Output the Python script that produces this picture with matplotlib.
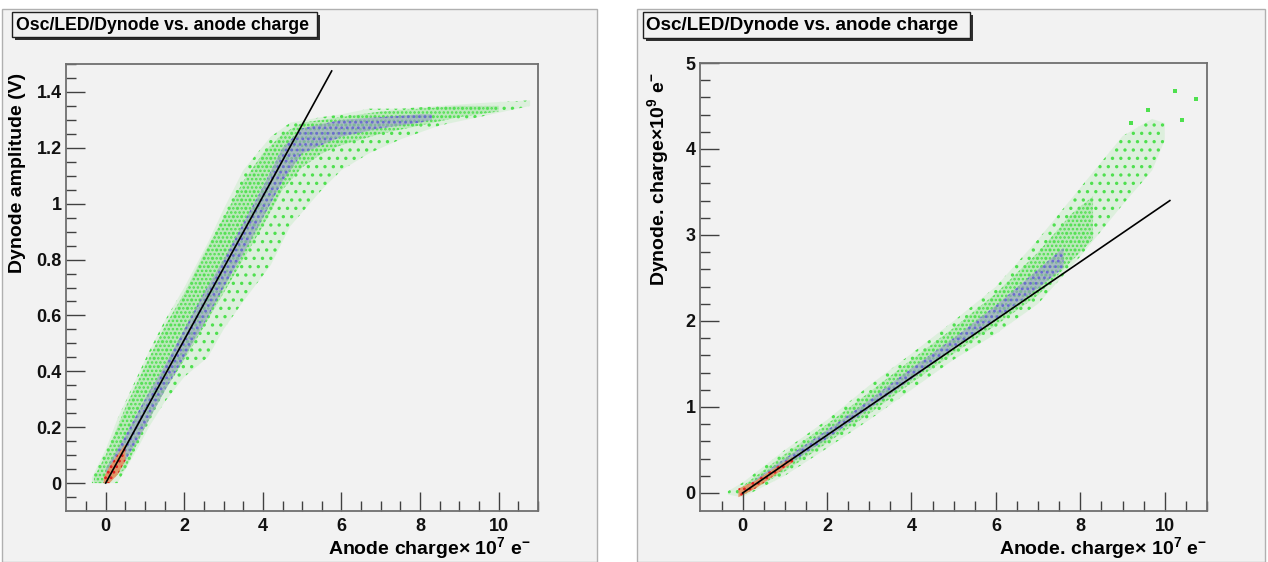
import matplotlib
matplotlib.use("Agg")
import matplotlib.pyplot as plt
from matplotlib.patches import Rectangle

plt.rcParams["font.family"] = ["Liberation Sans", "DejaVu Sans"]
plt.rcParams["font.weight"] = "bold"
plt.rcParams["mathtext.fontset"] = "custom"
plt.rcParams["mathtext.rm"] = "Liberation Sans:bold"
plt.rcParams["mathtext.it"] = "Liberation Sans:bold"
plt.rcParams["hatch.linewidth"] = 1.2

# ---- left panel: dynode amplitude (V) vs anode charge (x 1e7 e-) ----
amp_outer_x = [-0.35, 0.0, 0.3, 0.8, 1.1, 1.5, 2.0, 2.6, 3.0, 3.5, 4.2, 4.7, 5.5, 6.0, 6.7, 7.5, 8.5, 9.5, 10.8]
amp_outer_lo = [0.0, 0.0, 0.0, 0.12, 0.2, 0.29, 0.38, 0.45, 0.55, 0.65, 0.78, 0.92, 1.05, 1.12, 1.18, 1.23, 1.28, 1.31, 1.35]
amp_outer_hi = [0.02, 0.12, 0.23, 0.38, 0.47, 0.58, 0.70, 0.86, 0.98, 1.12, 1.24, 1.29, 1.31, 1.32, 1.34, 1.34, 1.35, 1.36, 1.37]

amp_body_x = [-0.3, 0.0, 0.5, 1.0, 1.5, 2.0, 2.5, 3.0, 3.5, 4.0, 4.5, 5.0, 5.5, 6.0, 7.0, 8.0, 9.0, 10.0]
amp_body_lo = [0.0, 0.0, 0.05, 0.2, 0.33, 0.44, 0.56, 0.68, 0.8, 0.92, 1.05, 1.13, 1.18, 1.21, 1.25, 1.28, 1.31, 1.33]
amp_body_hi = [0.02, 0.1, 0.27, 0.42, 0.56, 0.68, 0.82, 0.95, 1.08, 1.18, 1.25, 1.29, 1.30, 1.31, 1.33, 1.34, 1.35, 1.35]

amp_core_x = [0.0, 0.5, 1.0, 1.5, 2.0, 2.5, 3.0, 3.5, 4.0, 4.5, 5.0, 6.0, 7.0, 8.0, 8.3]
amp_core_lo = [0.0, 0.08, 0.2, 0.33, 0.45, 0.57, 0.7, 0.82, 0.95, 1.08, 1.18, 1.24, 1.27, 1.29, 1.3]
amp_core_hi = [0.05, 0.17, 0.3, 0.42, 0.55, 0.68, 0.8, 0.93, 1.06, 1.2, 1.27, 1.3, 1.31, 1.32, 1.32]

amp_hot_x = [-0.05, 0.1, 0.3, 0.5]
amp_hot_lo = [0.0, 0.0, 0.03, 0.08]
amp_hot_hi = [0.02, 0.06, 0.1, 0.14]

amp_fit_x = [0.0, 5.75]
amp_fit_y = [0.0, 1.475]

# ---- right panel: dynode charge (x 1e9 e-) vs anode charge (x 1e7 e-) ----
chg_outer_x = [-0.35, 0.0, 1.0, 2.0, 3.0, 4.0, 5.0, 6.0, 7.0, 8.0, 9.0, 9.7, 10.0]
chg_outer_lo = [-0.02, -0.05, 0.2, 0.52, 0.85, 1.2, 1.55, 1.85, 2.2, 2.75, 3.35, 3.75, 4.1]
chg_outer_hi = [0.02, 0.12, 0.5, 0.85, 1.25, 1.62, 2.0, 2.4, 2.95, 3.55, 4.15, 4.35, 4.3]

chg_body_x = [0.0, 1.0, 2.0, 3.0, 4.0, 5.0, 6.0, 7.0, 7.8, 8.3]
chg_body_lo = [-0.03, 0.25, 0.58, 0.92, 1.28, 1.62, 1.95, 2.3, 2.7, 2.95]
chg_body_hi = [0.08, 0.45, 0.80, 1.17, 1.55, 1.92, 2.32, 2.8, 3.25, 3.45]

chg_core_x = [0.0, 1.0, 2.0, 3.0, 4.0, 5.0, 6.0, 7.0, 7.6]
chg_core_lo = [-0.02, 0.3, 0.63, 0.98, 1.32, 1.68, 2.02, 2.38, 2.62]
chg_core_hi = [0.05, 0.4, 0.73, 1.08, 1.45, 1.8, 2.18, 2.6, 2.85]

chg_hot_x = [-0.1, 0.3, 0.8, 1.2]
chg_hot_lo = [-0.05, 0.05, 0.22, 0.36]
chg_hot_hi = [0.05, 0.14, 0.3, 0.42]

chg_stray_x = [10.24, 10.4, 10.73, 9.6, 9.2]
chg_stray_y = [4.68, 4.34, 4.58, 4.45, 4.3]

chg_fit_x = [0.0, 10.12]
chg_fit_y = [0.0, 3.40]

W, H = 1268, 562
fig = plt.figure(figsize=(W / 100, H / 100), dpi=100)
fig.patch.set_facecolor("white")

BG = "#f2f2f2"
GREEN = "#4ee04e"


def box(x0, y0, x1, y1):
    # pixel box (top-left origin) -> figure fraction rect
    return [x0 / W, 1 - y1 / H, (x1 - x0) / W, (y1 - y0) / H]


# canvas pads (behind the axes)
for x0, x1 in [(2, 597), (637, 1265)]:
    r = box(x0, 9, x1, 562)
    fig.patches.append(Rectangle(r[:2], r[2], r[3], transform=fig.transFigure,
                                 facecolor=BG, edgecolor="#b0b0b0", lw=1, zorder=-5))


def cloud(ax, x, lo, hi, face, hatch_col, hatch, alpha):
    ax.fill_between(x, lo, hi, facecolor=face, alpha=alpha, lw=0)
    ax.fill_between(x, lo, hi, facecolor="none", edgecolor=hatch_col, hatch=hatch, lw=0)


def style(ax, xlim, ylim):
    ax.set_facecolor(BG)
    ax.set_xlim(*xlim)
    ax.set_ylim(*ylim)
    for s in ax.spines.values():
        s.set_color("#707070")
        s.set_linewidth(1.3)
    ax.tick_params(which="both", direction="in", top=False, right=False,
                   color="#404040", labelsize=13, labelcolor="#111111")
    ax.tick_params(which="major", length=14, width=1)
    ax.tick_params(which="minor", length=7, width=1)
    ax.tick_params(axis="x", pad=5)
    ax.tick_params(axis="y", pad=3)


# left axes
ax1 = fig.add_axes(box(66, 64, 538, 511))
cloud(ax1, amp_outer_x, amp_outer_lo, amp_outer_hi, "#b8eab8", GREEN, "..", 0.35)
cloud(ax1, amp_body_x, amp_body_lo, amp_body_hi, "#9ee49e", GREEN, "....", 0.55)
cloud(ax1, amp_core_x, amp_core_lo, amp_core_hi, "#9a9ac8", "#6a6ad0", "...", 0.6)
cloud(ax1, amp_hot_x, amp_hot_lo, amp_hot_hi, "#e89060", "#e02020", "...", 0.9)
ax1.plot(amp_fit_x, amp_fit_y, color="black", lw=1.2)
style(ax1, (-1.01, 10.95), (-0.1, 1.5))
ax1.set_xticks([0, 2, 4, 6, 8, 10])
ax1.set_xticks([i * 0.5 - 0.5 for i in range(24)], minor=True)
ax1.set_yticks([0, 0.2, 0.4, 0.6, 0.8, 1.0, 1.2, 1.4])
ax1.set_yticklabels(["0", "0.2", "0.4", "0.6", "0.8", "1", "1.2", "1.4"])
ax1.set_yticks([i * 0.05 - 0.05 for i in range(32)], minor=True)

# right axes
ax2 = fig.add_axes(box(700, 63, 1207, 511))
cloud(ax2, chg_outer_x, chg_outer_lo, chg_outer_hi, "#b8eab8", GREEN, "..", 0.35)
cloud(ax2, chg_body_x, chg_body_lo, chg_body_hi, "#9ee49e", GREEN, "....", 0.55)
cloud(ax2, chg_core_x, chg_core_lo, chg_core_hi, "#9a9ac8", "#6a6ad0", "...", 0.6)
cloud(ax2, chg_hot_x, chg_hot_lo, chg_hot_hi, "#e89060", "#e02020", "...", 0.9)
ax2.scatter(chg_stray_x, chg_stray_y, s=5, color=GREEN, marker="s", lw=0)
ax2.plot(chg_fit_x, chg_fit_y, color="black", lw=1.2)
style(ax2, (-1.01, 11.0), (-0.21, 5.0))
ax2.set_xticks([0, 2, 4, 6, 8, 10])
ax2.set_xticks([i * 0.5 - 0.5 for i in range(24)], minor=True)
ax2.set_yticks([0, 1, 2, 3, 4, 5])
ax2.set_yticks([i * 0.2 for i in range(25)], minor=True)

# title boxes
for x0, x1, y0, y1 in [(12, 317, 12, 37), (643, 970, 12, 38)]:
    sh = box(x0 + 3, y0 + 3, x1 + 3, y1 + 3)
    fig.patches.append(Rectangle(sh[:2], sh[2], sh[3], transform=fig.transFigure,
                                 facecolor="#303030", edgecolor="none"))
    r = box(x0, y0, x1, y1)
    fig.patches.append(Rectangle(r[:2], r[2], r[3], transform=fig.transFigure,
                                 facecolor=BG, edgecolor="#202020", lw=1))
fig.text(162 / W, 1 - 25 / H, "Osc/LED/Dynode vs. anode charge", ha="center", va="center",
         fontsize=12.7, fontweight="bold")
fig.text(802 / W, 1 - 25 / H, "Osc/LED/Dynode vs. anode charge", ha="center", va="center",
         fontsize=13.6, fontweight="bold")

# axis titles
fig.text(18 / W, 1 - 73 / H, "Dynode amplitude (V)", rotation=90, ha="center", va="top",
         fontsize=14, fontweight="bold")
fig.text(658 / W, 1 - 73 / H, r"Dynode. charge$\times$10$^{9}$ e$^{-}$", rotation=90,
         ha="center", va="top", fontsize=14, fontweight="bold")
fig.text(531 / W, 1 - 548 / H, r"Anode charge$\times$ 10$^{7}$ e$^{-}$", ha="right",
         va="center", fontsize=14, fontweight="bold")
fig.text(1207 / W, 1 - 548 / H, r"Anode. charge$\times$ 10$^{7}$ e$^{-}$", ha="right",
         va="center", fontsize=14, fontweight="bold")

fig.savefig("out.png", dpi=100)
